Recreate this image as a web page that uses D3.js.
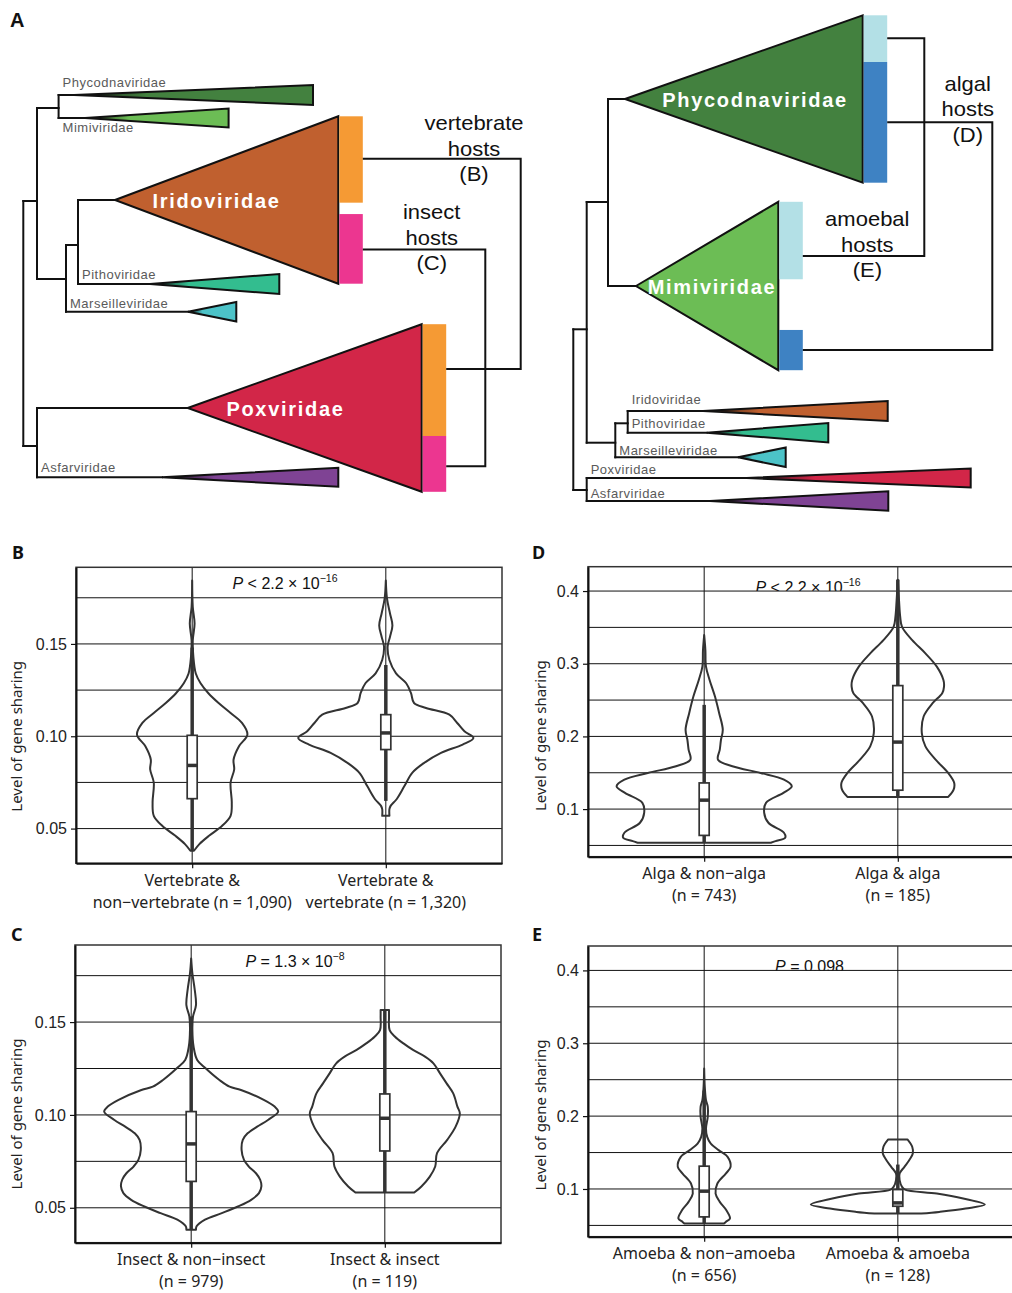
<!DOCTYPE html>
<html>
<head>
<meta charset="utf-8">
<script src="https://cdn.jsdelivr.net/npm/d3@7"></script>
<style>
  body { margin: 0; background: #fff; }
  svg { display: block; }
</style>
</head>
<body>
<svg id="fig" width="1012" height="1293"></svg>
<script>
// ---------------- data ----------------

// host colours
const hostColors = { vertebrate: "#f59a34", insect: "#ec3690", algal: "#3e82c3", amoebal: "#b3e0e6" };

// clade colours
const cladeColors = {
  Phycodnaviridae: "#43813f", Mimiviridae: "#6cbd55", Iridoviridae: "#c0602f",
  Pithoviridae: "#33bd8f", Marseilleviridae: "#4cc3c8", Poxviridae: "#d22648", Asfarviridae: "#7f4394"
};

// left tree (x = branch depth, y = row, tip = depth of clade edge, spread = half height in rows)
const treeLeft = { x: 0, y: 0, children: [
  { x: 1.37, y: 20.1, children: [
    { x: 3.53, y: 10.8, children: [
      { name: "Phycodnaviridae", x: 5.07, y: 9.5, tip: 28.97, spread: 1.0 },
      { name: "Mimiviridae", x: 6.17, y: 11.8, tip: 20.53, spread: 0.95 }
    ]},
    { x: 4.27, y: 27.9, children: [
      { x: 5.47, y: 24.5, children: [
        { name: "Iridoviridae", x: 9.17, y: 20.0, tip: 31.5, spread: 8.37, major: true },
        { name: "Pithoviridae", x: 12.67, y: 28.4, tip: 25.6, spread: 1.0 }
      ]},
      { name: "Marseilleviridae", x: 16.47, y: 31.17, tip: 21.3, spread: 0.98 }
    ]}
  ]},
  { x: 1.37, y: 44.6, children: [
    { name: "Poxviridae", x: 16.44, y: 40.8, tip: 39.84, spread: 8.38, major: true },
    { name: "Asfarviridae", x: 13.87, y: 47.72, tip: 31.5, spread: 0.95 }
  ]}
]};

// right tree
const treeRight = { x: 0, y: 0, children: [
  { x: 1.34, y: 32.93, children: [
    { x: 3.47, y: 20.2, children: [
      { name: "Phycodnaviridae", x: 5.17, y: 9.9, tip: 28.94, spread: 8.37, major: true },
      { name: "Mimiviridae", x: 6.27, y: 28.6, tip: 20.5, spread: 8.42, major: true }
    ]},
    { x: 4.2, y: 44.27, children: [
      { x: 5.44, y: 42.33, children: [
        { name: "Iridoviridae", x: 12.97, y: 41.1, tip: 31.44, spread: 0.99 },
        { name: "Pithoviridae", x: 13.34, y: 43.27, tip: 25.5, spread: 0.97 }
      ]},
      { name: "Marseilleviridae", x: 16.47, y: 45.73, tip: 21.24, spread: 0.98 }
    ]}
  ]},
  { x: 1.34, y: 49.0, children: [
    { name: "Poxviridae", x: 17.34, y: 47.8, tip: 39.74, spread: 0.95 },
    { name: "Asfarviridae", x: 13.67, y: 50.1, tip: 31.5, spread: 0.97 }
  ]}
]};

// host segments on the big clades (fractions of clade height, top = 0)
const hostsLeft = {
  Iridoviridae: [{ host: "vertebrate", from: 0, to: 0.516 }, { host: "insect", from: 0.584, to: 1 }],
  Poxviridae:   [{ host: "vertebrate", from: 0, to: 0.667 }, { host: "insect", from: 0.667, to: 1 }]
};
const hostsRight = {
  Phycodnaviridae: [{ host: "amoebal", from: 0, to: 0.279 }, { host: "algal", from: 0.279, to: 1 }],
  Mimiviridae:     [{ host: "amoebal", from: 0, to: 0.46 },  { host: "algal", from: 0.761, to: 1 }]
};

// host links: [clade, segment, position along segment]
const linksLeft = [
  { lines: ["vertebrate", "hosts", "(B)"], ends: [["Iridoviridae", 0, 0.49], ["Poxviridae", 0, 0.40]], bracket: 49.74, labelX: 45.07, labelY: 13.0 },
  { lines: ["insect", "hosts", "(C)"], ends: [["Iridoviridae", 1, 0.51], ["Poxviridae", 1, 0.54]], bracket: 46.2, labelX: 40.84, labelY: 21.9 }
];
const linksRight = [
  { lines: ["algal", "hosts", "(D)"], ends: [["Phycodnaviridae", 1, 0.50], ["Mimiviridae", 1, 0.5]], bracket: 41.9, labelX: 39.44, labelY: 9.07 },
  { lines: ["amoebal", "hosts", "(E)"], ends: [["Phycodnaviridae", 0, 0.49], ["Mimiviridae", 0, 0.70]], bracket: 35.1, labelX: 29.4, labelY: 22.6 }
];

// violin panels: [value, density]
const catsB = [["Vertebrate &", "non\u2212vertebrate (n = 1,090)"], ["Vertebrate &", "vertebrate (n = 1,320)"]];
const densB1 = [[0.038,0.03],[0.0416,0.12],[0.0461,0.28],[0.0515,0.50],[0.0569,0.64],[0.0641,0.66],[0.0749,0.64],[0.0820,0.70],[0.0874,0.69],[0.0946,0.78],[0.1009,0.92],[0.1072,0.83],[0.1126,0.64],[0.118,0.44],[0.1233,0.27],[0.1287,0.14],[0.134,0.06],[0.143,0.02],[0.152,0.01],[0.161,0.04],[0.170,0.01],[0.1844,0]];
const densB2 = [[0.0569,0.06],[0.0605,0.06],[0.0623,0.08],[0.0659,0.18],[0.073,0.31],[0.0802,0.44],[0.0856,0.64],[0.091,0.92],[0.0955,1.28],[0.0991,1.46],[0.1027,1.31],[0.1072,1.19],[0.1117,1.06],[0.1153,0.67],[0.118,0.47],[0.1233,0.42],[0.1287,0.34],[0.1341,0.17],[0.1413,0.06],[0.1485,0.03],[0.1539,0.07],[0.160,0.11],[0.1665,0.07],[0.1745,0.02],[0.1844,0]];
const boxB = [{ lo: 0.038, q1: 0.0662, med: 0.0842, q3: 0.1005, hi: 0.148 }, { lo: 0.065, q1: 0.0928, med: 0.1018, q3: 0.1117, hi: 0.1386 }];

const catsC = [["Insect & non\u2212insect", "(n = 979)"], ["Insect & insect", "(n = 119)"]];
const densC1 = [[0.0382,0.08],[0.040,0.09],[0.0436,0.23],[0.0471,0.51],[0.0507,0.78],[0.0543,1.0],[0.0579,1.13],[0.0615,1.17],[0.0651,1.15],[0.0686,1.08],[0.0722,0.96],[0.0758,0.88],[0.0812,0.84],[0.0866,0.86],[0.0901,0.94],[0.0937,1.10],[0.0973,1.28],[0.1018,1.45],[0.1045,1.39],[0.1081,1.21],[0.1134,0.83],[0.1152,0.64],[0.1188,0.47],[0.1251,0.24],[0.1296,0.10],[0.1367,0.04],[0.1457,0.02],[0.1529,0.03],[0.1591,0.08],[0.1672,0.06],[0.1762,0.02],[0.1842,0]];
const densC2 = [[0.0582,0.49],[0.0615,0.61],[0.0668,0.75],[0.0722,0.84],[0.0794,0.87],[0.0866,1.04],[0.0937,1.18],[0.1009,1.25],[0.1045,1.21],[0.1116,1.14],[0.117,1.03],[0.1224,0.92],[0.1278,0.81],[0.1314,0.67],[0.135,0.47],[0.1385,0.31],[0.1421,0.17],[0.1457,0.08],[0.1529,0.07],[0.1565,0.07]];
const boxC = [{ lo: 0.038, q1: 0.0642, med: 0.0844, q3: 0.1018, hi: 0.153 }, { lo: 0.0582, q1: 0.0806, med: 0.0982, q3: 0.1113, hi: 0.1565 }];

const catsD = [["Alga & non\u2212alga", "(n = 743)"], ["Alga & alga", "(n = 185)"]];
const densD1 = [[0.0537,1.11],[0.056,1.19],[0.0606,1.35],[0.0675,1.33],[0.0812,1.07],[0.0949,1.00],[0.1086,1.03],[0.1223,1.32],[0.1315,1.46],[0.1406,1.33],[0.1497,0.94],[0.1589,0.47],[0.168,0.23],[0.1817,0.26],[0.1954,0.28],[0.2091,0.31],[0.232,0.25],[0.2548,0.18],[0.2777,0.09],[0.296,0.03],[0.3188,0.02],[0.3394,0]];
const densD2 = [[0.1168,0.84],[0.1269,0.93],[0.136,0.94],[0.1497,0.84],[0.168,0.63],[0.1863,0.46],[0.2046,0.40],[0.2274,0.43],[0.2457,0.58],[0.2594,0.74],[0.2686,0.77],[0.2777,0.76],[0.296,0.65],[0.3143,0.46],[0.3325,0.24],[0.3508,0.07],[0.3645,0.04],[0.3874,0.02],[0.4157,0]];
const boxD = [{ lo: 0.0537, q1: 0.0638, med: 0.1123, q3: 0.136, hi: 0.2434 }, { lo: 0.1168, q1: 0.126, med: 0.1922, q3: 0.2699, hi: 0.4157 }];

const catsE = [["Amoeba & non\u2212amoeba", "(n = 656)"], ["Amoeba & amoeba", "(n = 128)"]];
const densE1 = [[0.0525,0.33],[0.0548,0.36],[0.0594,0.43],[0.0708,0.37],[0.0823,0.26],[0.0937,0.19],[0.1075,0.22],[0.1212,0.36],[0.1304,0.44],[0.1441,0.39],[0.1533,0.24],[0.1624,0.11],[0.1716,0.05],[0.183,0.03],[0.1991,0.06],[0.2128,0.06],[0.222,0.03],[0.2403,0.01],[0.2655,0]];
const densE2 = [[0.0662,0.39],[0.0685,0.69],[0.0731,1.13],[0.0786,1.45],[0.0869,1.09],[0.0937,0.65],[0.0992,0.12],[0.1029,0.07],[0.1121,0.03],[0.1212,0.03],[0.1304,0.11],[0.1395,0.19],[0.1487,0.25],[0.1579,0.24],[0.168,0.16]];
const boxE = [{ lo: 0.0525, q1: 0.0617, med: 0.097, q3: 0.1313, hi: 0.235 }, { lo: 0.0662, q1: 0.0763, med: 0.0809, q3: 0.0992, hi: 0.1335 }];

const ticksLow = [0.05, 0.10, 0.15], minorLow = [0.075, 0.125, 0.175], domainLow = [0.0312, 0.1915];
const ticksHigh = [0.1, 0.2, 0.3, 0.4], minorHigh = [0.05, 0.15, 0.25, 0.35], domainHigh = [0.0345, 0.4335];

const pB = ["P", " < 2.2 \u00d7 10", "\u221216"];
const pC = ["P", " = 1.3 \u00d7 10", "\u22128"];
const pD = ["P", " < 2.2 \u00d7 10", "\u221216"];
const pE = ["P", " = 0.098", ""];

// ---------------- drawing ----------------
const svg = d3.select("#fig");
const defs = svg.append("defs");
const ARIAL = "'Liberation Sans', Arial, sans-serif";
const NOTO = "'Noto Sans', sans-serif";
const INK = "#111";

const treeY = d3.scaleLinear().domain([0, 10]).range([0, 100]);

function drawTree(tree, side, xs, hosts, links, labelDy, majorX) {
  const g = svg.append("g");
  const root = d3.hierarchy(tree);
  const seg = (x1, y1, x2, y2) => g.append("line")
    .attr("x1", x1).attr("y1", y1).attr("x2", x2).attr("y2", y2)
    .attr("stroke", INK).attr("stroke-width", 2).attr("stroke-linecap", "square");

  root.each(n => {
    if (!n.children) return;
    const px = xs(n.data.x);
    const cy = n.children.map(c => treeY(c.data.y));
    seg(px, d3.min(cy), px, d3.max(cy));
    n.children.forEach(c => seg(px, treeY(c.data.y), xs(c.data.x), treeY(c.data.y)));
  });

  const geo = {};
  root.leaves().forEach(l => {
    const d = l.data;
    const ax = xs(d.x), ay = treeY(d.y), tx = xs(d.tip);
    const top = treeY(d.y - d.spread), bot = treeY(d.y + d.spread);
    geo[d.name] = { tx, top, bot };
    let fill = cladeColors[d.name];
    if (!d.major) {
      const id = `grad-${side}-${d.name}`;
      const gr = defs.append("linearGradient").attr("id", id)
        .attr("gradientUnits", "userSpaceOnUse").attr("x1", ax).attr("x2", tx).attr("y1", 0).attr("y2", 0);
      gr.append("stop").attr("offset", 0).attr("stop-color", "#111");
      gr.append("stop").attr("offset", 0.3).attr("stop-color", fill);
      gr.append("stop").attr("offset", 1).attr("stop-color", fill);
      fill = `url(#${id})`;
    }
    g.append("path")
      .attr("d", d3.line()([[ax, ay], [tx, top], [tx, bot]]) + "Z")
      .attr("fill", fill).attr("stroke", INK).attr("stroke-width", 2).attr("stroke-linejoin", "miter");

    if (d.major) {
      g.append("text").attr("x", xs(majorX[d.name])).attr("y", ay + 7.5)
        .attr("text-anchor", "middle").attr("fill", "#fff")
        .style("font-family", ARIAL).style("font-weight", "bold").style("font-size", "20px")
        .style("letter-spacing", "1.7px").text(d.name);
    } else {
      g.append("text").attr("x", xs(l.parent.data.x) + 4).attr("y", ay + labelDy[d.name])
        .attr("fill", "#5a5a5a").style("font-family", ARIAL).style("font-size", "13px")
        .style("letter-spacing", "0.5px").text(d.name);
    }
  });

  // host bars
  const barW = 23.5;
  const segGeo = {};
  Object.entries(hosts).forEach(([name, segs]) => {
    const c = geo[name], H = c.bot - c.top;
    segGeo[name] = segs.map(s => {
      const y0 = c.top + s.from * H, y1 = c.top + s.to * H;
      g.append("rect").attr("x", c.tx + 1).attr("y", y0).attr("width", barW).attr("height", y1 - y0)
        .attr("fill", hostColors[s.host]);
      return { x: c.tx + 1 + barW, y0, y1 };
    });
  });

  // host links
  links.forEach(k => {
    const pts = k.ends.map(([name, i, at]) => {
      const s = segGeo[name][i];
      return [s.x, s.y0 + at * (s.y1 - s.y0)];
    });
    const bx = xs(k.bracket);
    g.append("path")
      .attr("d", `M${pts[0][0]},${pts[0][1]}H${bx}V${pts[1][1]}H${pts[1][0]}`)
      .attr("fill", "none").attr("stroke", INK).attr("stroke-width", 2);
    k.lines.forEach((t, i) => {
      g.append("text")
        .attr("transform", `translate(${xs(k.labelX)},${treeY(k.labelY) + i * 25.5}) scale(1.1,1)`)
        .attr("text-anchor", "middle").attr("fill", "#111")
        .style("font-family", ARIAL).style("font-size", "20px").text(t);
    });
  });
}

drawTree(treeLeft, "L", d3.scaleLinear().domain([0, 10]).range([23.3, 123.3]), hostsLeft, linksLeft,
  { Phycodnaviridae: -8, Mimiviridae: 14, Pithoviridae: -5, Marseilleviridae: -3.3, Asfarviridae: -5 },
  { Iridoviridae: 19.32, Poxviridae: 26.22 });
drawTree(treeRight, "R", d3.scaleLinear().domain([0, 10]).range([573.3, 673.3]), hostsRight, linksRight,
  { Iridoviridae: -6.7, Pithoviridae: -4.4, Marseilleviridae: -2.3, Poxviridae: -4.3, Asfarviridae: -3 },
  { Phycodnaviridae: 18.17, Mimiviridae: 13.87 });

svg.append("text").attr("x", 10).attr("y", 27).style("font-family", ARIAL).style("font-weight", "bold")
  .style("font-size", "20px").attr("fill", "#111").text("A");

// ---------------- violins ----------------
const PW = 426;
const widthScale = d3.scaleLinear().domain([0, 1]).range([0, 60]);

const panels = [
  { id: "B", cats: catsB, dens: [densB1, densB2], box: boxB, p: pB, domain: domainLow, major: ticksLow, minor: minorLow, fmt: ".2f",
    x0: 76, y0: 567.3, y1: 863.3, pNudge: -4, pDy: 22, clip: false, titleDx: -54, letter: [12, 559] },
  { id: "C", cats: catsC, dens: [densC1, densC2], box: boxC, p: pC, domain: domainLow, major: ticksLow, minor: minorLow, fmt: ".2f",
    x0: 75, y0: 945, y1: 1242.7, pNudge: 7, pDy: 22.3, clip: false, titleDx: -53, letter: [11, 941] },
  { id: "D", cats: catsD, dens: [densD1, densD2], box: boxD, p: pD, domain: domainHigh, major: ticksHigh, minor: minorHigh, fmt: ".1f",
    x0: 588, y0: 566.7, y1: 856.7, pNudge: 7, pDy: 26, clip: true, titleDx: -42, letter: [532, 559] },
  { id: "E", cats: catsE, dens: [densE1, densE2], box: boxE, p: pE, domain: domainHigh, major: ticksHigh, minor: minorHigh, fmt: ".1f",
    x0: 588, y0: 946, y1: 1236.7, pNudge: 8.5, pDy: 26.3, clip: true, titleDx: -42, letter: [532, 941] }
];

panels.forEach(cfg => {
  const { x0, y0, y1 } = cfg;
  const x1 = x0 + PW;
  const keys = cfg.cats.map(c => c.join(" "));
  const x = d3.scalePoint().domain(keys).range([x0, x1]).padding(0.6);
  const y = d3.scaleLinear().domain(cfg.domain).range([y1, y0]);
  const g = svg.append("g");

  // grid
  g.selectAll("line.h").data(cfg.major.concat(cfg.minor)).join("line").attr("class", "h")
    .attr("x1", x0).attr("x2", x1).attr("y1", d => y(d)).attr("y2", d => y(d))
    .attr("stroke", INK).attr("stroke-width", 1);
  g.selectAll("line.v").data(keys).join("line").attr("class", "v")
    .attr("x1", d => x(d)).attr("x2", d => x(d)).attr("y1", y0).attr("y2", y1)
    .attr("stroke", INK).attr("stroke-width", 1);

  // P value
  const pt = g.append("text")
    .attr("x", (x(keys[0]) + x(keys[1])) / 2 + cfg.pNudge).attr("y", y0 + cfg.pDy)
    .attr("text-anchor", "middle").attr("fill", "#111")
    .style("font-family", ARIAL).style("font-size", "16px");
  pt.append("tspan").style("font-style", "italic").text(cfg.p[0]);
  pt.append("tspan").text(cfg.p[1]);
  if (cfg.p[2]) pt.append("tspan").attr("dy", -7).style("font-size", "10.5px").text(cfg.p[2]);
  if (cfg.clip) {
    const cid = "clip-" + cfg.id;
    defs.append("clipPath").attr("id", cid).append("rect")
      .attr("x", x0).attr("y", y0).attr("width", PW).attr("height", y(0.4) - y0);
    pt.attr("clip-path", `url(#${cid})`);
  }

  // violins + boxes
  keys.forEach((k, i) => {
    const cx = x(k);
    const area = d3.area().curve(d3.curveCatmullRom)
      .y(d => y(d[0])).x0(d => cx - widthScale(d[1])).x1(d => cx + widthScale(d[1]));
    g.append("path").attr("d", area(cfg.dens[i]))
      .attr("fill", "none").attr("stroke", "#333").attr("stroke-width", 2).attr("stroke-linejoin", "round");
    const b = cfg.box[i];
    g.append("line").attr("x1", cx).attr("x2", cx).attr("y1", y(b.lo)).attr("y2", y(b.hi))
      .attr("stroke", "#333").attr("stroke-width", 3.5);
    g.append("rect").attr("x", cx - 5).attr("width", 10).attr("y", y(b.q3)).attr("height", y(b.q1) - y(b.q3))
      .attr("fill", "#fff").attr("stroke", "#333").attr("stroke-width", 1.7);
    g.append("line").attr("x1", cx - 5).attr("x2", cx + 5).attr("y1", y(b.med)).attr("y2", y(b.med))
      .attr("stroke", "#333").attr("stroke-width", 3.5);
  });

  // frame & axes
  g.append("rect").attr("x", x0).attr("y", y0).attr("width", PW).attr("height", y1 - y0)
    .attr("fill", "none").attr("stroke", "#333").attr("stroke-width", 1.5);

  const ya = g.append("g").attr("transform", `translate(${x0},0)`)
    .call(d3.axisLeft(y).tickValues(cfg.major).tickSize(5).tickSizeOuter(0).tickPadding(4).tickFormat(d3.format(cfg.fmt)));
  ya.select(".domain").attr("stroke", INK).attr("stroke-width", 2);
  ya.selectAll(".tick line").attr("stroke", INK).attr("stroke-width", 1.2);
  ya.selectAll(".tick text").attr("fill", "#222").style("font-family", ARIAL).style("font-size", "16px");

  const xa = g.append("g").attr("transform", `translate(0,${y1})`)
    .call(d3.axisBottom(x).tickSize(5).tickSizeOuter(0).tickFormat(""));
  xa.select(".domain").attr("stroke", INK).attr("stroke-width", 2);
  xa.selectAll(".tick line").attr("stroke", INK).attr("stroke-width", 1.2);

  cfg.cats.forEach((c, i) => {
    c.forEach((line, j) => {
      g.append("text").attr("x", x(keys[i])).attr("y", y1 + 22.5 + j * 22)
        .attr("text-anchor", "middle").attr("fill", "#222")
        .style("font-family", NOTO).style("font-size", "16px").text(line);
    });
  });

  g.append("text").attr("transform", `translate(${x0 + cfg.titleDx},${y0 + 169}) rotate(-90)`)
    .attr("text-anchor", "middle").attr("fill", "#222")
    .style("font-family", NOTO).style("font-size", "15px").text("Level of gene sharing");

  svg.append("text").attr("x", cfg.letter[0]).attr("y", cfg.letter[1])
    .style("font-family", NOTO).style("font-weight", "bold").style("font-size", "18px")
    .attr("fill", "#111").text(cfg.id);
});
</script>
</body>
</html>
